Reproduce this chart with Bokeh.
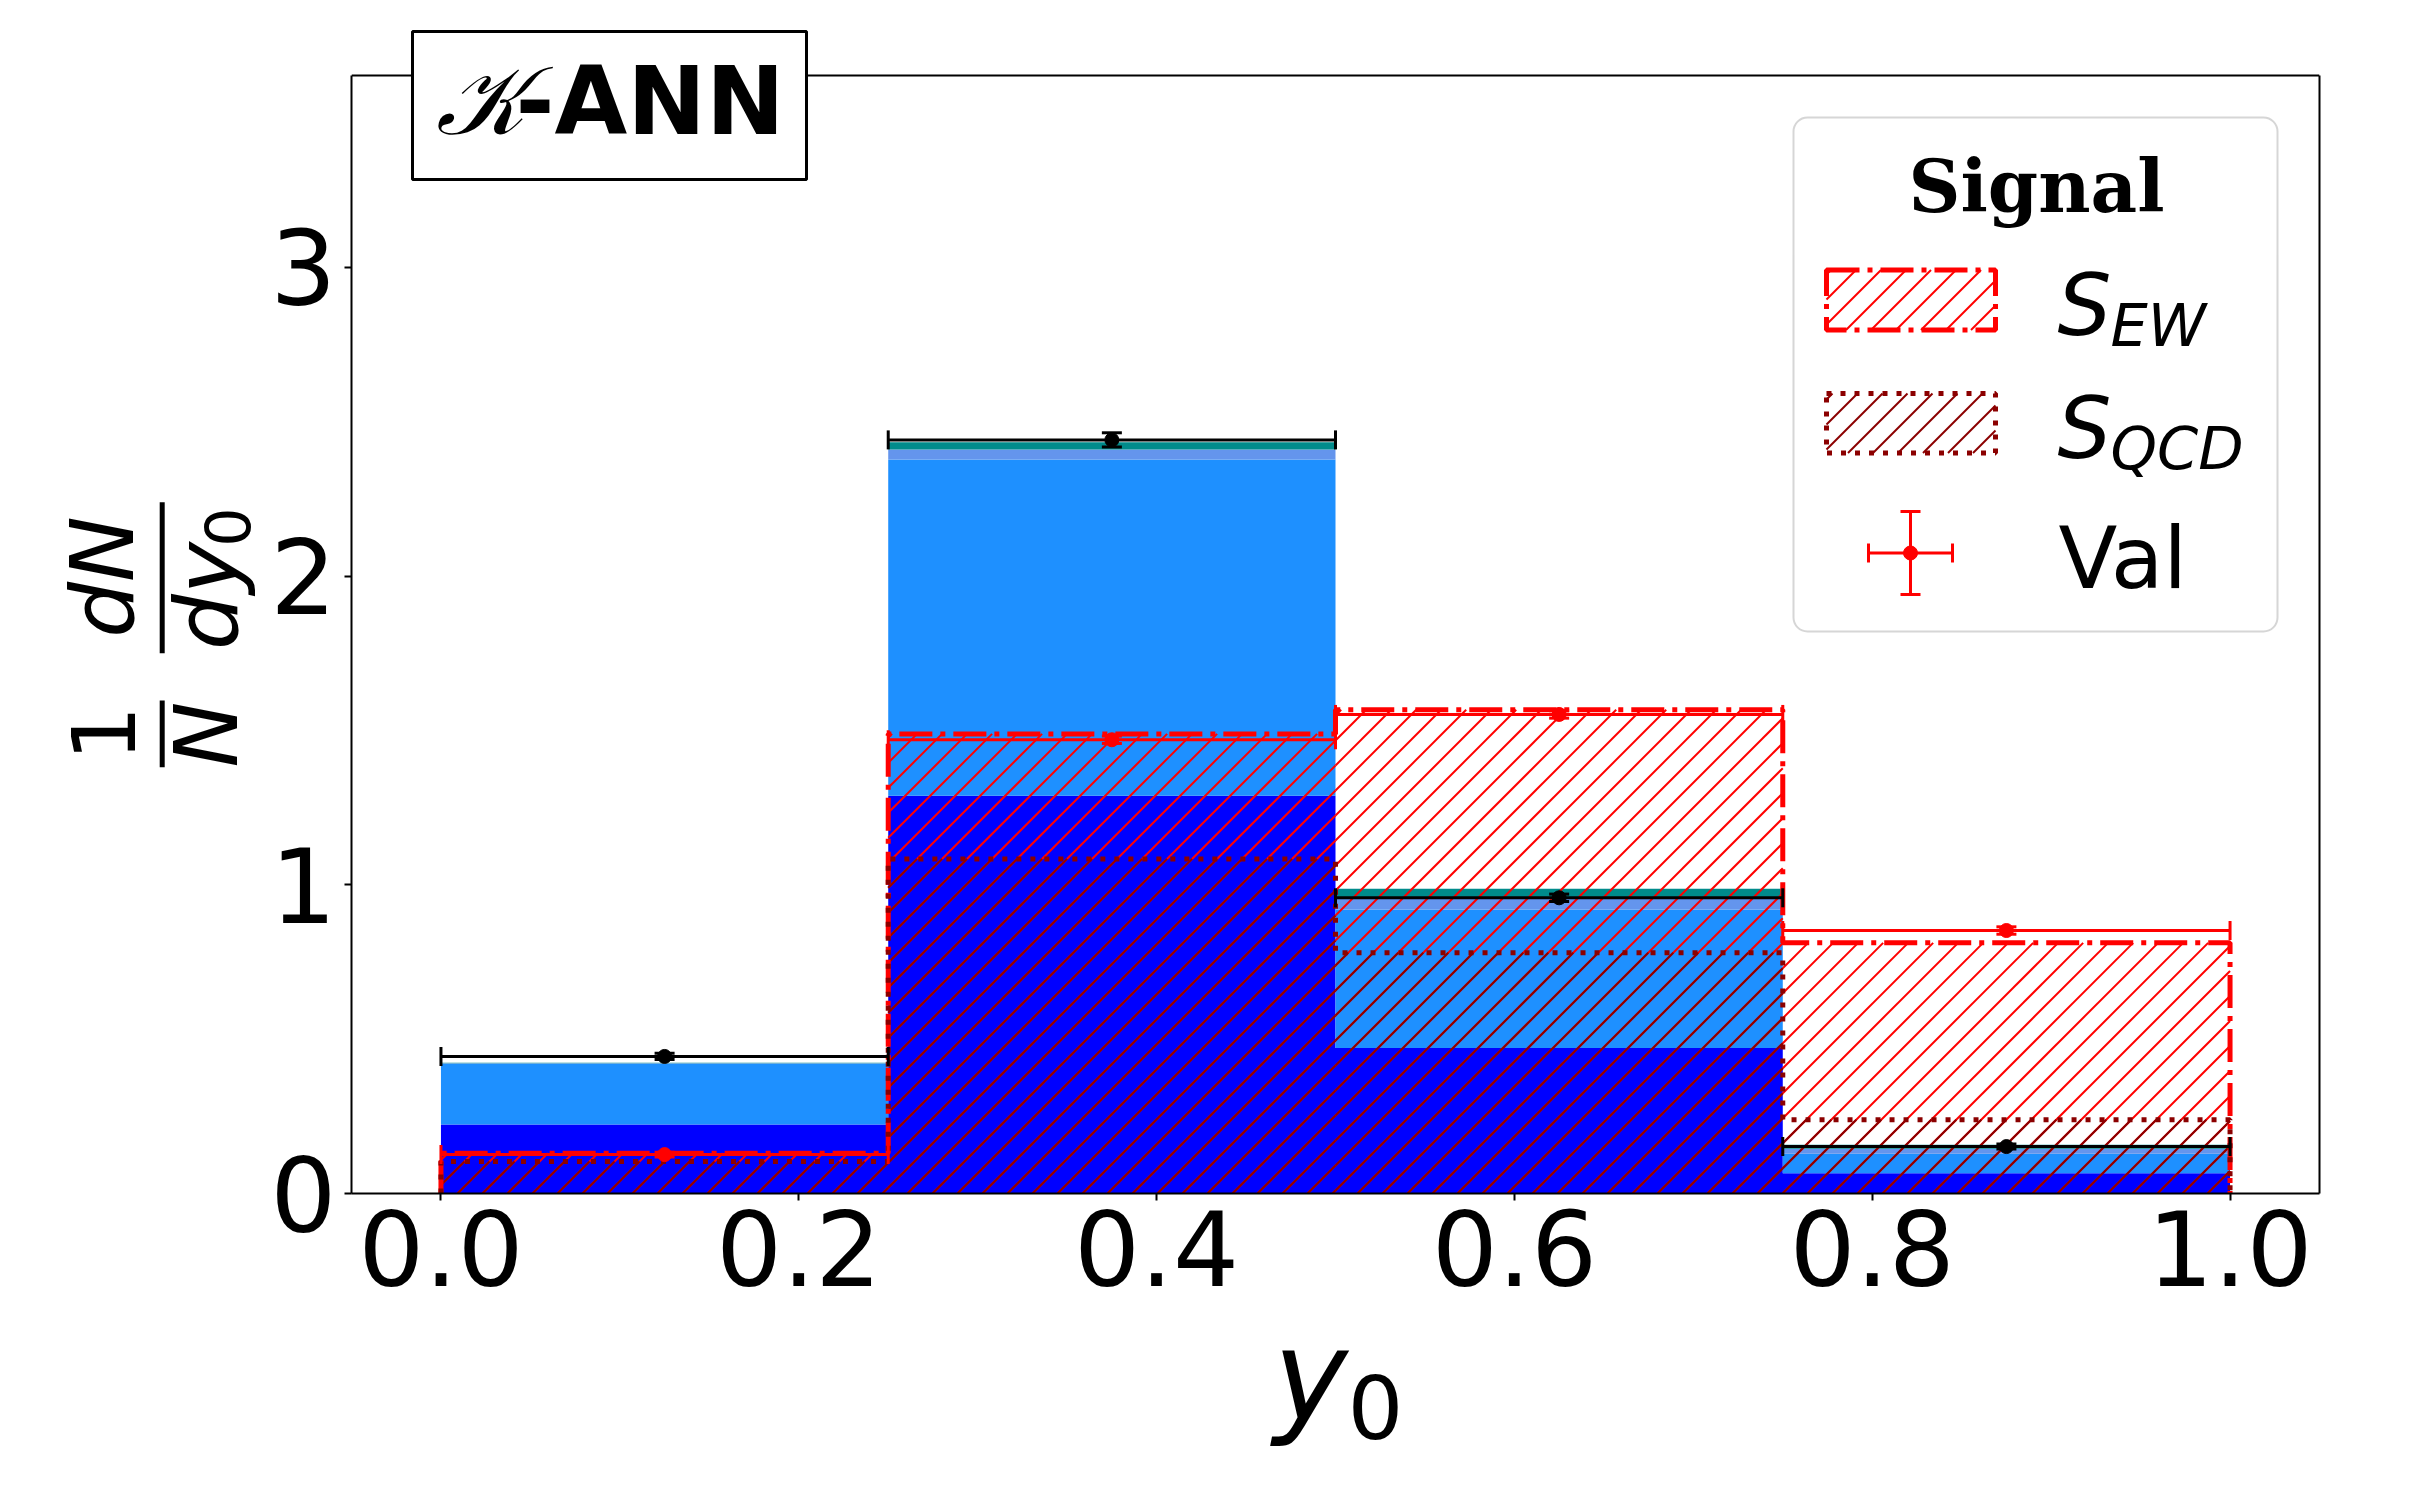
import numpy as np
from bokeh.plotting import figure
from bokeh.models import Label, LinearAxis, FixedTicker, PrintfTickFormatter
from bokeh.layouts import row, column
from bokeh.core.properties import value
from bokeh.embed import file_html
from bokeh.resources import INLINE

# ---------------- data ----------------
bin_edges = [0.0, 0.25, 0.5, 0.75, 1.0]
bkg_blue = [0.2235, 1.289, 0.471, 0.066]
bkg_dodger = [0.1965, 1.089, 0.449, 0.063]
bkg_cornflower = [0.002, 0.032, 0.035, 0.016]
bkg_teal = [0.002, 0.024, 0.032, 0.013]
bkg_points = [0.444, 2.4415, 0.958, 0.152]
bkg_points_err = [0.010, 0.023, 0.012, 0.008]
sig_ew = [0.1306, 1.489, 1.567, 0.812]
sig_qcd = [0.1037, 1.084, 0.780, 0.239]
val_points = [0.126, 1.470, 1.552, 0.852]
val_points_err = [0.008, 0.012, 0.012, 0.012]
x_ticks = [0.0, 0.2, 0.4, 0.6, 0.8, 1.0]
y_ticks = [0, 1, 2, 3]
y_axis_top = 3.622

# ---------------- layout (page pixels) ----------------
X_LO, X_HI = -0.05, 1.05
YLAB_W = 266
FL, FT, FW = 351, 16, 1968        # frame left / top / width
Y0_PX = 1193                      # pixel row of y = 0
PX_PER_Y = 308.667
FH = Y0_PX - FT
Y_HI = FH / PX_PER_Y
BOT = 140
MAIN_H = FT + FH + BOT
TOTAL_W, TOTAL_H = 2395, 1484
RIGHT = TOTAL_W - FL - FW
BASE_FIX = 0.27                   # baseline correction (fraction of font size)
ROT_SHIFT = 7                     # extra shift for rotated label text


def dx(px):
    return X_LO + (px - FL) / FW * (X_HI - X_LO)


def dy(py):
    return (Y0_PX - py) / PX_PER_Y


def to_px(x):
    return FL + (np.asarray(x, dtype=float) - X_LO) / (X_HI - X_LO) * FW


def to_py(y):
    return Y0_PX - np.asarray(y, dtype=float) * PX_PER_Y


p = figure(frame_width=FW, frame_height=FH, min_border_left=FL - YLAB_W, min_border_top=FT,
           min_border_right=RIGHT, min_border_bottom=BOT,
           x_range=(X_LO, X_HI), y_range=(0.0, Y_HI),
           output_backend="svg", toolbar_location=None,
           background_fill_color="white", border_fill_color="white",
           outline_line_color=None)
p.xgrid.visible = False
p.ygrid.visible = False

edges = np.array(bin_edges)
left = edges[:-1]
right = edges[1:]
centers = (left + right) / 2

HATCH_SPACING = 25.0
HATCH_W = 2


def hatch_segments(rects):
    """45-degree '/' hatch lines (in page pixels) clipped to rectangles (x0, x1, top, bottom)."""
    xs0, ys0, xs1, ys1 = [], [], [], []
    for X0, X1, T, B in rects:
        if B - T <= 0.5:
            continue
        k0 = int(np.ceil((X0 + T) / HATCH_SPACING))
        k1 = int(np.floor((X1 + B) / HATCH_SPACING))
        for k in range(k0, k1 + 1):
            c = k * HATCH_SPACING
            xa = max(X0, c - B)
            xb = min(X1, c - T)
            if xb - xa <= 0.3:
                continue
            xs0.append(xa); ys0.append(c - xa)
            xs1.append(xb); ys1.append(c - xb)
    return (np.array(xs0), np.array(ys0), np.array(xs1), np.array(ys1))


def draw_hatch(rects, col):
    a, b, c, d = hatch_segments(rects)
    p.segment(x0=dx(a), y0=dy(b), x1=dx(c), y1=dy(d), line_color=col, line_width=HATCH_W)


def step_xy(vals):
    xs, ys = [], []
    for i, v in enumerate(vals):
        xs += [edges[i], edges[i + 1]]
        ys += [v, v]
    return xs, ys


def band(lo, hi):
    xt, yt = step_xy(hi)
    xb, yb = step_xy(lo)
    return xt + xb[::-1], yt + yb[::-1]


# top spine (drawn first so that the title box covers it)
p.segment(x0=[X_LO], y0=[y_axis_top], x1=[X_HI], y1=[y_axis_top], line_color="black", line_width=2)

# stacked background
base = np.zeros(len(left))
for vals, col in [(bkg_blue, "#0000ff"), (bkg_dodger, "#1e90ff"),
                  (bkg_cornflower, "#6495ed"), (bkg_teal, "#008b8b")]:
    top = base + np.array(vals)
    xs, ys = band(list(base), list(top))
    p.patch(xs, ys, fill_color=col, line_color=None)
    base = top

# signal hatched histograms
EW_DASH = "33 8 5 8"
QCD_DASH = "5 9"
for vals, col in [(sig_ew, "#ff0000"), (sig_qcd, "#8b0000")]:
    rects = list(zip(to_px(left), to_px(right), to_py(vals), to_py(np.zeros(len(vals)))))
    draw_hatch(rects, col)
for vals, col, dash in [(sig_ew, "#ff0000", EW_DASH), (sig_qcd, "#8b0000", QCD_DASH)]:
    sx, sy = step_xy(vals)
    p.line([edges[0]] + sx + [edges[-1]], [0.0] + sy + [0.0], line_color=col,
           line_width=5, line_dash=dash)


def errorbars(vals, errs, col):
    v = np.array(vals)
    e = np.array(errs)
    p.segment(x0=left, y0=v, x1=right, y1=v, line_color=col, line_width=3)
    p.segment(x0=centers, y0=v - e, x1=centers, y1=v + e, line_color=col, line_width=3)
    p.scatter(x=np.r_[left, right], y=np.r_[v, v], marker="dash", size=19,
              angle=np.pi / 2, line_color=col, line_width=3)
    p.scatter(x=np.r_[centers, centers], y=np.r_[v - e, v + e], marker="dash",
              size=20, line_color=col, line_width=3)
    p.scatter(x=centers, y=v, marker="circle", size=14, fill_color=col, line_color=col)


errorbars(bkg_points, bkg_points_err, "black")
errorbars(val_points, val_points_err, "#ff0000")

# ---------------- axes ----------------
for ax in (p.xaxis[0], p.yaxis[0]):
    ax.axis_line_width = 2
    ax.axis_line_color = "black"
    ax.major_tick_line_width = 2
    ax.major_tick_line_color = "black"
    ax.major_tick_out = 7
    ax.major_tick_in = 0
    ax.minor_tick_line_color = None
    ax.major_label_text_font = "DejaVu Sans"
    ax.major_label_text_font_size = "104px"
    ax.major_label_text_color = "black"
p.xaxis.ticker = FixedTicker(ticks=x_ticks)
p.xaxis.formatter = PrintfTickFormatter(format="%.1f")
p.xaxis.major_label_standoff = 9
p.yaxis.ticker = FixedTicker(ticks=y_ticks)
p.yaxis.formatter = PrintfTickFormatter(format="%d")
p.yaxis.major_label_standoff = 8
p.yaxis.bounds = (0, y_axis_top)

rax = LinearAxis(ticker=FixedTicker(ticks=[]), major_label_text_font_size="0px",
                 major_tick_line_color=None, minor_tick_line_color=None,
                 axis_line_width=2, axis_line_color="black", bounds=(0, y_axis_top))
p.add_layout(rax, "right")


def add_text(text, xr, yr, size, font="DejaVu Sans", style="normal", align="left", color="black"):
    lab = Label(x=dx(xr), y=dy(yr - BASE_FIX * size), text=text, text_font=font,
                text_font_style=style, text_font_size=f"{size}px", text_align=align,
                text_baseline="alphabetic", text_color=color)
    p.add_layout(lab)
    return lab


# ---------------- title box ----------------
p.quad(left=dx(412), right=dx(806), top=dy(31), bottom=dy(179), fill_color="white",
       line_color="black", line_width=3)
add_text("-ANN", 515, 126, 94, style="bold")
add_text("\U0001D4A6", 480, 126, 96, font="DejaVu Serif", style="italic", align="center")

# ---------------- legend ----------------
p.quad(left=dx(1793), right=dx(2277), top=dy(117), bottom=dy(631),
       fill_color="white", fill_alpha=0.8, line_color="#d6d6d6", line_width=2,
       border_radius=14)
LEG_X0, LEG_X1 = 1826, 1995
for (y_top, y_bot), col, dash in [((269.5, 329.5), "#ff0000", EW_DASH),
                                  ((393, 452.5), "#8b0000", QCD_DASH)]:
    draw_hatch([(LEG_X0, LEG_X1, y_top, y_bot)], col)
    p.quad(left=dx(LEG_X0), right=dx(LEG_X1), top=dy(y_top), bottom=dy(y_bot),
           fill_color=None, line_color=col, line_width=5, line_dash=dash)
lx, ly = 1910, 552.5
p.segment(x0=[dx(1868), dx(lx)], y0=[dy(ly), dy(511)], x1=[dx(1952), dx(lx)],
          y1=[dy(ly), dy(594)], line_color="#ff0000", line_width=3)
p.scatter(x=[dx(1868), dx(1952)], y=[dy(ly), dy(ly)], marker="dash", size=19,
          angle=np.pi / 2, line_color="#ff0000", line_width=3)
p.scatter(x=[dx(lx), dx(lx)], y=[dy(511), dy(594)], marker="dash", size=20,
          line_color="#ff0000", line_width=3)
p.scatter(x=[dx(lx)], y=[dy(ly)], marker="circle", size=14, fill_color="#ff0000",
          line_color="#ff0000")

add_text("Signal", 2036, 205, 72, font="DejaVu Serif", style="bold", align="center")
add_text("S", 2057, 328, 85, style="italic")
add_text("EW", 2110, 341, 59, style="italic")
add_text("S", 2057, 451, 85, style="italic")
add_text("QCD", 2110, 464, 59, style="italic")
add_text("Val", 2058, 580.5, 86)

# ---------------- y label (own panel, frame aligned with main frame) ----------------
ylab = figure(frame_width=YLAB_W, frame_height=FH, min_border_left=0, min_border_right=0,
              min_border_top=FT, min_border_bottom=BOT,
              x_range=(0, YLAB_W), y_range=(-Y0_PX, -FT),
              x_axis_type=None, y_axis_type=None, toolbar_location=None,
              output_backend="svg", outline_line_color=None,
              background_fill_color="white", border_fill_color="white")
R = np.pi / 2


def ytext(t, bx, cy, size, style):
    ylab.text(x=[bx - BASE_FIX * size - ROT_SHIFT], y=[-cy], text=[t], angle=R,
              text_font=value("DejaVu Sans"), text_font_size=value(f"{size}px"),
              text_font_style=style, text_align="center", text_baseline="alphabetic",
              text_color="black")


ytext("1", 133, 733, 88, "normal")
ytext("N", 237, 734, 88, "italic")
ytext("dN", 133, 576.5, 88, "italic")
ytext("dy", 237, 595.5, 88, "italic")
ytext("0", 250, 526.5, 62, "normal")
ylab.segment(x0=[161.7, 161.7], y0=[-700, -501.7], x1=[161.7, 161.7], y1=[-766.7, -652.7],
             line_color="black", line_width=5)

# ---------------- x label (own panel, frame aligned with main frame) ----------------
XLAB_H = TOTAL_H - MAIN_H
xlab = figure(frame_width=FW, frame_height=XLAB_H, min_border_left=FL, min_border_right=RIGHT,
              min_border_top=0, min_border_bottom=0,
              x_range=(FL, FL + FW), y_range=(-(MAIN_H + XLAB_H), -MAIN_H),
              x_axis_type=None, y_axis_type=None, toolbar_location=None,
              output_backend="svg", outline_line_color=None,
              background_fill_color="white", border_fill_color="white")


def xtext(t, cx, by, size, style):
    xlab.text(x=[cx], y=[-(by - BASE_FIX * size)], text=[t],
              text_font=value("DejaVu Sans"), text_font_size=value(f"{size}px"),
              text_font_style=style, text_align="center", text_baseline="alphabetic",
              text_color="black")


xtext("y", 1310, 1410, 126, "italic")
xtext("0", 1375, 1430, 88, "normal")

layout = column(row(ylab, p), xlab)
open("out.html", "w").write(file_html(layout, INLINE))
